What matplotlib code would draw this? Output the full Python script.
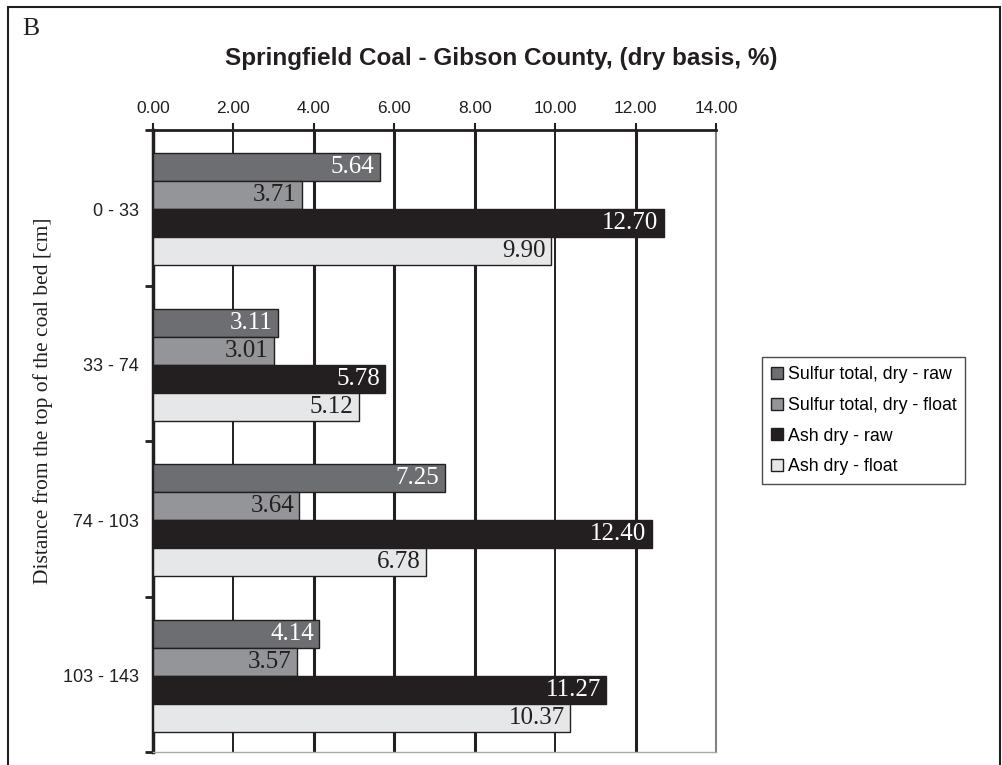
#Horizontal grouped bar chart - Springfield Coal, Gibson County
import matplotlib.pyplot as plt
import matplotlib.patches as patches
import numpy as np

#Data
depths = ["0 - 33", "33 - 74", "74 - 103", "103 - 143"]
series = ["Sulfur total, dry - raw", "Sulfur total, dry - float",
          "Ash dry - raw", "Ash dry - float"]
sulfur_raw = [5.64, 3.11, 7.25, 4.14]
sulfur_float = [3.71, 3.01, 3.64, 3.57]
ash_raw = [12.70, 5.78, 12.40, 11.27]
ash_float = [9.90, 5.12, 6.78, 10.37]
x_ticks = [0, 2, 4, 6, 8, 10, 12, 14]

values = [sulfur_raw, sulfur_float, ash_raw, ash_float]
colors = ["#6d6e71", "#939598", "#231f20", "#e6e7e8"]
text_colors = ["white", "#231f20", "white", "#231f20"]

serif = ["Liberation Serif", "DejaVu Serif"]
sans = ["Liberation Sans", "DejaVu Sans"]

fig = plt.figure(figsize=(10.02, 7.65), dpi=100)
ax = fig.add_axes([153/1002, 1-752/765, (716-153)/1002, (752-130)/765])

h = 0.18
centers = np.arange(len(depths)) + 0.5
for k, vals in enumerate(values):
    pos = centers + (k - 1.5) * h + 0.01
    bars = ax.barh(pos, vals, height=h, color=colors[k], edgecolor="#231f20",
                   linewidth=1.0, zorder=3, label=series[k])
    for b, v in zip(bars, vals):
        ax.text(v - 0.13, b.get_y() + h/2, f"{v:.2f}", ha="right", va="center",
                color=text_colors[k], fontsize=18, family=serif, zorder=4)

#gridlines (2 and 10 print thinner in the original)
for xv in x_ticks[1:-1]:
    lw = 1.4 if xv in (2, 10) else 2.2
    ax.axvline(xv, color="#231f20", linewidth=lw, zorder=1)

ax.set_xlim(0, 14)
ax.set_ylim(4, 0)
ax.xaxis.tick_top()
ax.set_xticks(x_ticks)
ax.set_xticklabels([f"{v:.2f}" for v in x_ticks], fontsize=12.5, family=sans,
                   color="#231f20")
ax.tick_params(axis="x", direction="out", length=5, width=1.5, pad=5,
               color="#231f20")

ax.set_yticks([0, 1, 2, 3, 4])
ax.set_yticklabels([])
ax.tick_params(axis="y", which="major", direction="out", length=6, width=2,
               color="#231f20")
ax.set_yticks(centers + 0.01, minor=True)
ax.set_yticklabels(depths, minor=True, fontsize=13, family=sans, color="#231f20")
ax.tick_params(axis="y", which="minor", length=0, pad=10)

ax.spines["left"].set_linewidth(2.5)
ax.spines["left"].set_color("#231f20")
ax.spines["top"].set_linewidth(2.0)
ax.spines["top"].set_color("#231f20")
ax.spines["right"].set_linewidth(1.5)
ax.spines["right"].set_color("#808285")
ax.spines["bottom"].set_linewidth(1.0)
ax.spines["bottom"].set_color("#a7a9ac")

fig.text(43/1002, 1-401/765, "Distance from the top of the coal bed [cm]",
         rotation=90, ha="center", va="center", fontsize=15.5, family=serif,
         color="#231f20")
fig.text(501/1002, 1-58/765, "Springfield Coal - Gibson County, (dry basis, %)",
         ha="center", va="center", fontsize=17.5, fontweight="bold", family=sans,
         color="#231f20")
fig.text(31/1002, 1-29/765, "B", ha="center", va="center", fontsize=18.5,
         family=serif, color="#231f20")

leg_handles = [plt.Line2D([], [], marker="s", linestyle="none", markersize=8.6,
                          markerfacecolor=c, markeredgecolor="#231f20",
                          markeredgewidth=1.0) for c in colors]
leg = fig.legend(leg_handles, series, loc="upper left",
                 bbox_to_anchor=(762/1002, 1-357/765), frameon=True,
                 fancybox=False, edgecolor="#231f20", handlelength=0.7,
                 handletextpad=0.25, borderpad=0.5, labelspacing=0.78,
                 borderaxespad=0, prop={"family": sans, "size": 12.8})
leg.get_frame().set_linewidth(1.0)

#outer frame
fig.patches.append(patches.Rectangle((8/1002, -0.01), (1000-8)/1002, 1-7/765 + 0.01,
                                     transform=fig.transFigure, fill=False,
                                     edgecolor="#231f20", linewidth=1.5))

fig.savefig("out.png", dpi=100)
